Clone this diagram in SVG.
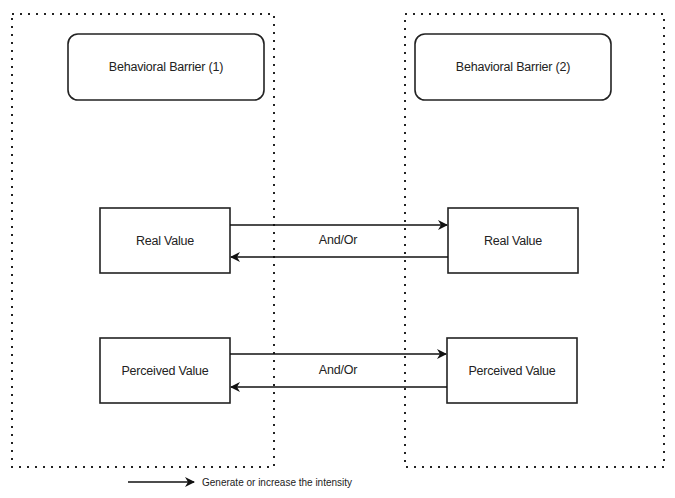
<svg xmlns="http://www.w3.org/2000/svg" width="675" height="498" viewBox="0 0 675 498">
<style>
.c{fill:none;stroke:#222;stroke-width:2;stroke-dasharray:2 6}
.n{fill:#fff;stroke:#222;stroke-width:1.6}
.t{font-family:"Liberation Sans",Arial,sans-serif;font-size:12.5px;fill:#222;text-anchor:middle;dominant-baseline:central;letter-spacing:-0.2px}
.e{fill:none;stroke:#111;stroke-width:1.6}
</style>
<defs>
<marker id="a" viewBox="0 0 10 10" refX="9" refY="5" markerWidth="10" markerHeight="10" markerUnits="userSpaceOnUse" orient="auto">
<path d="M0,0 L10,5 L0,10 L3,5 Z" fill="#111"/>
</marker>
</defs>
<rect width="675" height="498" fill="#fff"/>
<g id="container1"><rect class="c" x="12" y="14" width="262" height="453"/></g>
<g id="container2"><rect class="c" x="405" y="14" width="259" height="453"/></g>
<g id="barrier1"><rect class="n" x="68" y="34" width="196" height="66" rx="10"/><text class="t" x="166" y="67">Behavioral Barrier (1)</text></g>
<g id="barrier2"><rect class="n" x="415" y="34" width="196" height="66" rx="10"/><text class="t" x="513" y="67">Behavioral Barrier (2)</text></g>
<g id="real1"><rect class="n" x="100" y="208" width="130" height="65"/><text class="t" x="165" y="240.5">Real Value</text></g>
<g id="real2"><rect class="n" x="448" y="208" width="130" height="65"/><text class="t" x="513" y="240.5">Real Value</text></g>
<g id="perc1"><rect class="n" x="100" y="338" width="130" height="65"/><text class="t" x="165" y="370.5">Perceived Value</text></g>
<g id="perc2"><rect class="n" x="447" y="338" width="130" height="65"/><text class="t" x="512" y="370.5">Perceived Value</text></g>
<g id="connectors">
<line class="e" x1="230" y1="225" x2="447" y2="225" marker-end="url(#a)"/>
<line class="e" x1="448" y1="257" x2="231" y2="257" marker-end="url(#a)"/>
<text class="t" x="338" y="240">And/Or</text>
<line class="e" x1="230" y1="354" x2="446" y2="354" marker-end="url(#a)"/>
<line class="e" x1="447" y1="387" x2="231" y2="387" marker-end="url(#a)"/>
<text class="t" x="338" y="370">And/Or</text>
</g>
<g id="legend">
<line class="e" x1="128" y1="482" x2="194" y2="482" stroke-width="2" marker-end="url(#a)"/>
<text class="t" x="202" y="482" style="text-anchor:start;font-size:10px;letter-spacing:0">Generate or increase the intensity</text>
</g>
</svg>
